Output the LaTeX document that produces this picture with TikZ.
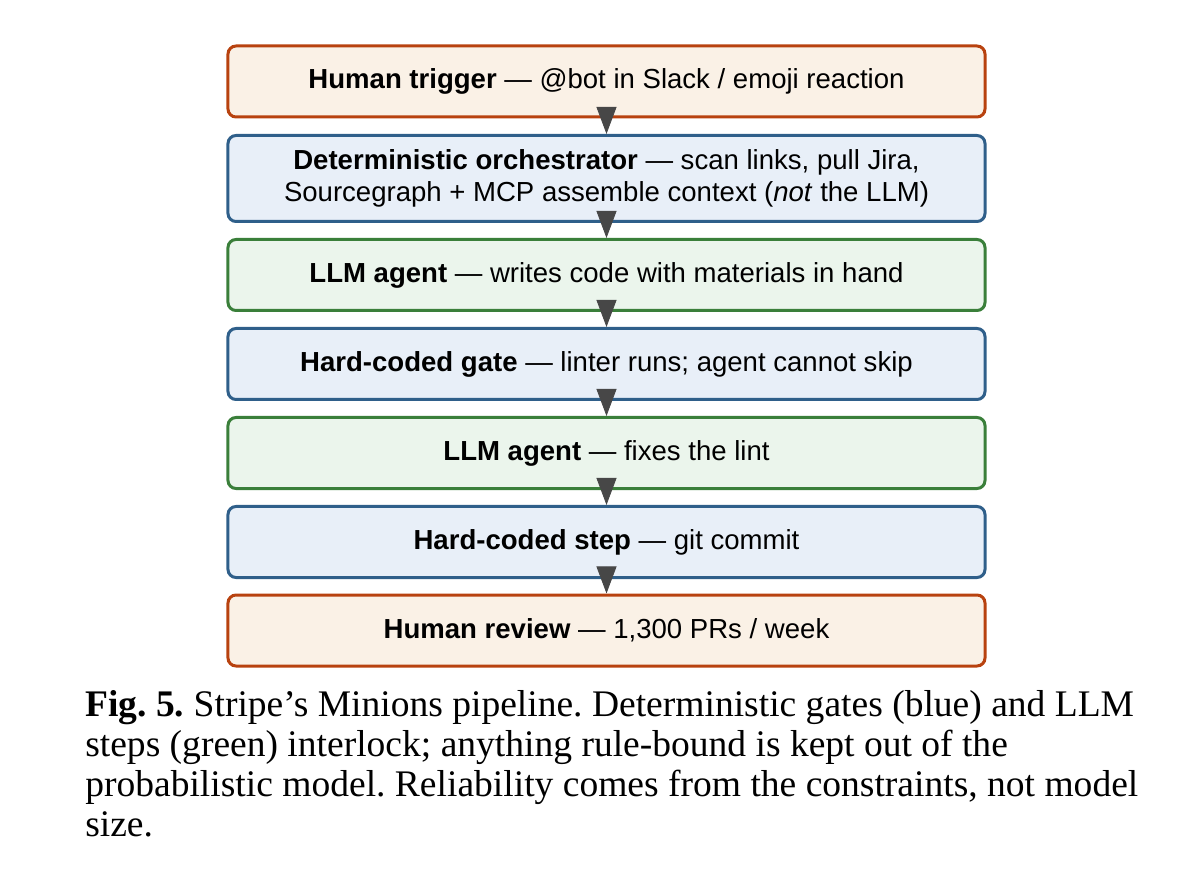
\documentclass[tikz,border=0pt]{standalone}
\usepackage{fontspec}
\setmainfont{Liberation Serif}
\setsansfont{Liberation Sans}
\usetikzlibrary{arrows.meta}
\definecolor{humanline}{HTML}{B8420F}
\definecolor{humanfill}{HTML}{FAF1E6}
\definecolor{gateline}{HTML}{2F5F8A}
\definecolor{gatefill}{HTML}{E8EFF8}
\definecolor{agentline}{HTML}{3A7F3A}
\definecolor{agentfill}{HTML}{EBF5EC}
\definecolor{tipgray}{HTML}{474747}
\tikzset{
  stagebox/.style = {line width=0.75mm, rounded corners=2mm, minimum width=189.25mm,
                     minimum height=17.75mm, inner sep=0pt, align=center,
                     font=\sffamily\fontsize{19.6}{22.8}\selectfont},
  human/.style = {stagebox, draw=humanline, fill=humanfill},
  gate/.style  = {stagebox, draw=gateline, fill=gatefill},
  agent/.style = {stagebox, draw=agentline, fill=agentfill},
  flow/.style  = {-{Triangle[length=6.75mm, width=5mm]}, draw=tipgray, fill=tipgray, line width=0.6pt},
}
\newcommand{\stage}[5]{\node[#3] (#1) at (606.5,#2) {{\bfseries #4} --- #5};}

\begin{document}
\frenchspacing
\begin{tikzpicture}[x=0.25mm,y=-0.25mm]
\useasboundingbox (0,0) rectangle (1198,891);

% ------------------------------------------------------------------ the pipeline
\stage{s1}{81.5}  {human}{Human trigger}{@bot in Slack / emoji reaction}
\node[gate, minimum height=21.5mm] (s2) at (606.5,178.5)
  {{\bfseries Deterministic orchestrator} --- scan links, pull Jira,\\
   Sourcegraph + MCP assemble context (\emph{not} the LLM)};
\stage{s3}{275} {agent}{LLM agent}{writes code with materials in hand}
\stage{s4}{364} {gate} {Hard-coded gate}{linter runs; agent cannot skip}
\stage{s5}{453} {agent}{LLM agent}{fixes the lint}
\stage{s6}{542} {gate} {Hard-coded step}{git commit}
\stage{s7}{630.5}   {human}{Human review}{1,300 PRs / week}

\foreach \a/\b in {s1/s2, s2/s3, s3/s4, s4/s5, s5/s6, s6/s7}{\draw[flow] (\a.south) -- (\b.north);}

% ------------------------------------------------------------------ caption
\node[anchor=north west, inner sep=0pt, align=left, font=\fontsize{26.7}{28.45}\selectfont] (cap) at (85,690)
  {\textbf{Fig. 5.} Stripe’s Minions pipeline. Deterministic gates (blue) and LLM\\
   steps (green) interlock; anything rule-bound is kept out of the\\
   probabilistic model. Reliability comes from the constraints, not model\\
   size.};

\end{tikzpicture}
\end{document}
